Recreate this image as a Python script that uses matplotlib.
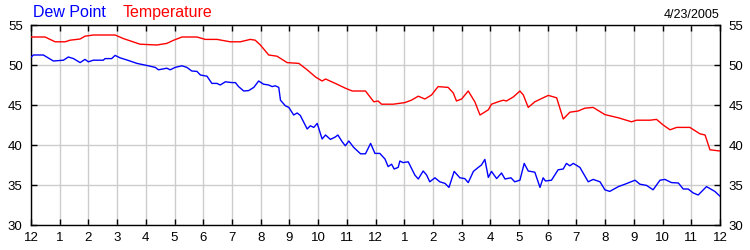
import matplotlib
matplotlib.use("Agg")
import matplotlib.pyplot as plt
import numpy as np

plt.rcParams['font.family'] = ['Liberation Sans', 'DejaVu Sans']

# ---- data (hours since midnight, degrees F) ----
temp_hours = [0, 0.49, 0.84, 1.19, 1.36, 1.71, 1.88, 2.17, 2.93, 3.22, 3.80, 4.38, 4.73, 4.97,
              5.26, 5.78, 6.07, 6.48, 6.94, 7.29, 7.64, 7.81, 7.99, 8.28, 8.57, 8.92, 9.33, 9.62,
              9.91, 10.14, 10.26, 10.60, 10.95, 11.19, 11.65, 11.94,
              12.09, 12.21, 12.62, 13.02, 13.25, 13.49, 13.72, 13.95, 14.18, 14.53, 14.71, 14.82,
              15.00, 15.23, 15.46, 15.64, 15.93, 16.04, 16.27, 16.45, 16.56, 16.80, 17.03, 17.15,
              17.32, 17.55, 17.78, 18.02, 18.31, 18.54, 18.77, 19.06, 19.29, 19.58, 19.99, 20.46,
              20.92, 21.09, 21.56, 21.79, 22.02, 22.26, 22.49, 22.95, 23.30, 23.48, 23.65, 24.0]
temperature = [53.5, 53.5, 52.9, 52.9, 53.1, 53.25, 53.6, 53.75, 53.75, 53.3, 52.6, 52.5, 52.7, 53.1,
               53.5, 53.5, 53.2, 53.2, 52.9, 52.9, 53.2, 53.1, 52.5, 51.25, 51.1, 50.3, 50.2, 49.4,
               48.5, 48.0, 48.25, 47.7, 47.1, 46.75, 46.75, 45.4,
               45.5, 45.1, 45.1, 45.3, 45.6, 46.1, 45.75, 46.25, 47.3, 47.2, 46.5, 45.5,
               45.75, 46.75, 45.4, 43.75, 44.4, 45.1, 45.4, 45.6, 45.5, 46.0, 46.75, 46.25,
               44.7, 45.4, 45.8, 46.2, 45.9, 43.25, 44.1, 44.25, 44.6, 44.7, 43.8, 43.4,
               42.9, 43.1, 43.1, 43.2, 42.5, 41.9, 42.2, 42.2, 41.4, 41.25, 39.4, 39.25]

dew_hours = [0, 0.08, 0.43, 0.78, 1.13, 1.30, 1.48, 1.71, 1.88, 2.00, 2.17, 2.52, 2.58, 2.81, 2.93,
             3.10, 3.45, 3.69, 4.09, 4.33, 4.44, 4.73, 4.85, 5.02, 5.26, 5.43, 5.60, 5.78, 5.90,
             6.13, 6.30, 6.48, 6.59, 6.77, 7.00, 7.12, 7.23, 7.41, 7.58, 7.76, 7.93, 8.10, 8.28,
             8.40, 8.51, 8.63, 8.69, 8.86, 8.98, 9.15, 9.27, 9.38, 9.62, 9.73, 9.85, 9.97, 10.14,
             10.26, 10.43, 10.60, 10.69, 10.84, 10.95, 11.07, 11.24, 11.48, 11.65, 11.83,
             11.98, 12.15, 12.33, 12.44, 12.56, 12.65, 12.79, 12.85, 12.96, 13.14, 13.37, 13.49,
             13.66, 13.78, 13.89, 14.07, 14.24, 14.42, 14.56, 14.74, 14.94, 15.11, 15.23, 15.41,
             15.58, 15.69, 15.81, 15.93, 16.04, 16.22, 16.39, 16.51, 16.72, 16.85, 17.03, 17.18,
             17.32, 17.55, 17.73, 17.84, 17.92, 18.13, 18.36, 18.54, 18.65, 18.77, 18.89, 19.12,
             19.41, 19.58, 19.82, 19.99, 20.16, 20.46, 20.69, 21.04, 21.21, 21.44, 21.67, 21.91,
             22.08, 22.31, 22.55, 22.72, 22.89, 23.07, 23.24, 23.53, 23.82, 24.0]
dew_point = [50.96, 51.25, 51.25, 50.5, 50.6, 51.0, 50.8, 50.3, 50.7, 50.4, 50.6, 50.6, 50.8, 50.8, 51.2,
             50.9, 50.5, 50.2, 49.9, 49.7, 49.4, 49.6, 49.4, 49.7, 49.9, 49.7, 49.25, 49.2, 48.75,
             48.6, 47.7, 47.7, 47.5, 47.9, 47.8, 47.8, 47.3, 46.75, 46.8, 47.2, 48.0, 47.6, 47.5,
             47.3, 47.4, 47.2, 45.6, 44.9, 44.7, 43.75, 44.0, 43.7, 42.0, 42.4, 42.2, 42.7, 40.75,
             41.25, 40.7, 41.0, 41.25, 40.4, 39.9, 40.5, 39.7, 38.9, 38.9, 40.2,
             38.95, 38.95, 38.25, 37.3, 37.6, 37.0, 37.2, 38.0, 37.8, 37.9, 36.25, 35.75,
             36.75, 36.25, 35.4, 35.9, 35.4, 35.2, 34.7, 36.7, 35.9, 35.8, 35.3, 36.7,
             37.2, 37.5, 38.2, 35.95, 36.7, 35.8, 36.5, 35.75, 35.9, 35.4, 35.6, 37.7,
             36.75, 36.6, 34.7, 35.9, 35.5, 35.6, 36.9, 37.0, 37.7, 37.4, 37.7, 37.2,
             35.4, 35.7, 35.4, 34.4, 34.2, 34.8, 35.1, 35.6, 35.1, 34.95, 34.4, 35.6,
             35.7, 35.3, 35.25, 34.5, 34.5, 34.0, 33.75, 34.8, 34.2, 33.6]

x_tick_labels = ['12', '1', '2', '3', '4', '5', '6', '7', '8', '9', '10', '11',
                 '12', '1', '2', '3', '4', '5', '6', '7', '8', '9', '10', '11', '12']
y_ticks = [30, 35, 40, 45, 50, 55]
date_label = '4/23/2005'

# ---- figure ----
W, H = 750, 250
fig = plt.figure(figsize=(W / 100, H / 100), dpi=100)
ax = fig.add_axes([31 / W, 1 - 225 / H, (720 - 31) / W, 200 / H])

grid_c = '#cccccc'
ax.plot(temp_hours, temperature, color='#ff0000', lw=1.0, zorder=3)
ax.plot(dew_hours, dew_point, color='#0000ff', lw=1.0, zorder=3)

ax.set_xlim(0, 24)
ax.set_ylim(30, 55)
ax.set_xticks(range(25))
ax.set_xticklabels(x_tick_labels)
ax.set_yticks(y_ticks)
ax.grid(True, color=grid_c, lw=1.0, zorder=1)
ax.set_axisbelow(True)

for s in ax.spines.values():
    s.set_color('black')
    s.set_linewidth(1.0)

ax.tick_params(axis='x', direction='in', length=4, width=1, top=True, bottom=True,
               labelsize=9.5, pad=5, colors='black')
ax.tick_params(axis='y', direction='in', length=4, width=1, left=True, right=True,
               labelleft=True, labelright=True, labelsize=9.5, pad=6, colors='black')

fig.text(33 / W, 1 - 17.3 / H, 'Dew Point', color='#0000ff', fontsize=11.5, va='baseline', ha='left')
fig.text(123 / W, 1 - 17.3 / H, 'Temperature', color='#ff0000', fontsize=11.5, va='baseline', ha='left')
fig.text(719 / W, 1 - 18.3 / H, date_label, color='black', fontsize=9, va='baseline', ha='right')

fig.savefig('out.png', dpi=100)
